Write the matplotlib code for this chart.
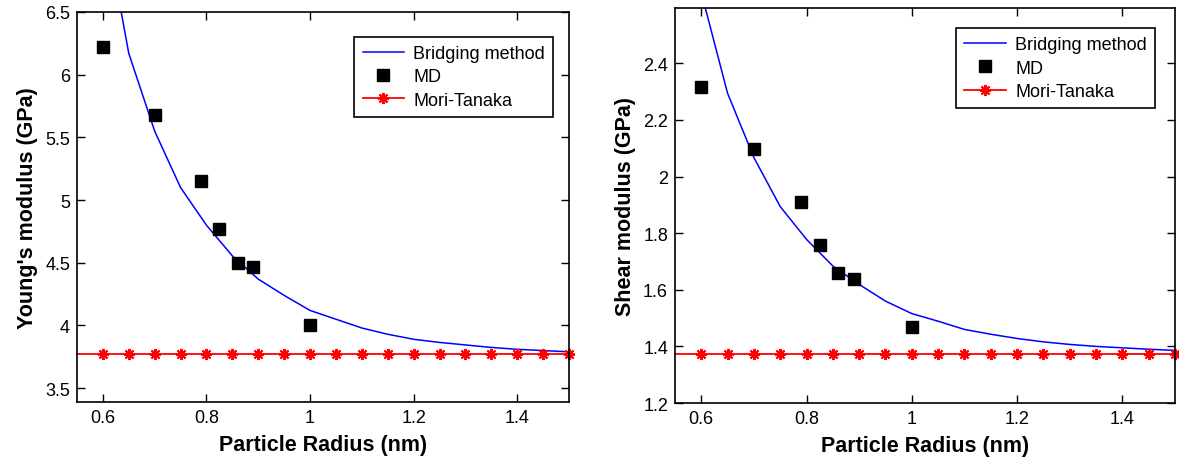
import matplotlib
matplotlib.use("Agg")
import matplotlib.pyplot as plt
from matplotlib.ticker import FuncFormatter

plt.rcParams['font.family'] = ['Liberation Sans', 'DejaVu Sans']

# Bridging method curve (sampled every 0.05 nm)
r_curve = [0.6, 0.65, 0.7, 0.75, 0.8, 0.85, 0.9, 0.95, 1.0, 1.05, 1.1, 1.15, 1.2, 1.25, 1.3, 1.35, 1.4, 1.45, 1.5]
E_bridge = [7.3, 6.17, 5.55, 5.10, 4.80, 4.555, 4.37, 4.24, 4.12, 4.05, 3.98, 3.93, 3.89, 3.865, 3.845, 3.825, 3.81, 3.80, 3.79]
G_bridge = [2.65, 2.294, 2.067, 1.894, 1.778, 1.684, 1.619, 1.56, 1.516, 1.489, 1.46, 1.443, 1.428, 1.416, 1.407, 1.40, 1.395, 1.39, 1.386]

# MD results
r_md = [0.6, 0.7, 0.79, 0.825, 0.86, 0.89, 1.0]
E_md = [6.22, 5.68, 5.15, 4.77, 4.50, 4.47, 4.00]
G_md = [2.317, 2.097, 1.91, 1.757, 1.658, 1.639, 1.467]

# Mori-Tanaka (constant)
r_mt = [0.55, 0.6, 0.65, 0.7, 0.75, 0.8, 0.85, 0.9, 0.95, 1.0, 1.05, 1.1, 1.15, 1.2, 1.25, 1.3, 1.35, 1.4, 1.45, 1.5]
E_mt = 3.772
G_mt = 1.373

fig = plt.figure(figsize=(11.79, 4.64), dpi=100)
ax1 = fig.add_axes([0.0653, 0.1315, 0.4173, 0.8405])
ax2 = fig.add_axes([0.5725, 0.1293, 0.4240, 0.8510])

panels = [
    (ax1, E_bridge, E_md, E_mt, "Young's modulus (GPa)", (3.39, 6.5), [3.5, 4, 4.5, 5, 5.5, 6, 6.5], (0.9675, 0.936)),
    (ax2, G_bridge, G_md, G_mt, "Shear modulus (GPa)", (1.2, 2.595), [1.2, 1.4, 1.6, 1.8, 2.0, 2.2, 2.4], (0.96, 0.949)),
]

for ax, bridge, md, mt, ylab, ylim, yticks, legpos in panels:
    ax.plot(r_curve, bridge, color='blue', lw=1.1, label='Bridging method')
    ax.plot(r_md, md, 's', color='black', ms=8.5, label='MD')
    mt_vals = [mt] * len(r_mt)
    ax.plot(r_mt, mt_vals, '-', color='red', lw=1.3, marker=(8, 2, 0), ms=8, mew=1.4,
            markevery=slice(1, None), clip_on=False, label='Mori-Tanaka')
    ax.set_xlim(0.55, 1.5)
    ax.set_ylim(*ylim)
    ax.set_xticks([0.6, 0.8, 1.0, 1.2, 1.4])
    ax.set_yticks(yticks)
    ax.xaxis.set_major_formatter(FuncFormatter(lambda v, p: '%g' % v))
    ax.yaxis.set_major_formatter(FuncFormatter(lambda v, p: '%g' % round(v, 2)))
    ax.tick_params(direction='in', top=True, right=True, labelsize=13, length=6, width=1, pad=5)
    ax.set_xlabel('Particle Radius (nm)', fontsize=15.5, fontweight='bold', labelpad=6)
    ax.set_ylabel(ylab, fontsize=15.5, fontweight='bold', labelpad=5)
    for s in ax.spines.values():
        s.set_linewidth(1.2)
    leg = ax.legend(loc='upper right', fontsize=13, fancybox=False, edgecolor='black',
                    framealpha=1, borderpad=0.45, handlelength=2.3, handletextpad=0.5,
                    labelspacing=0.35, borderaxespad=0, bbox_to_anchor=legpos)
    leg.get_frame().set_linewidth(1.2)

fig.savefig('out.png', dpi=100)
